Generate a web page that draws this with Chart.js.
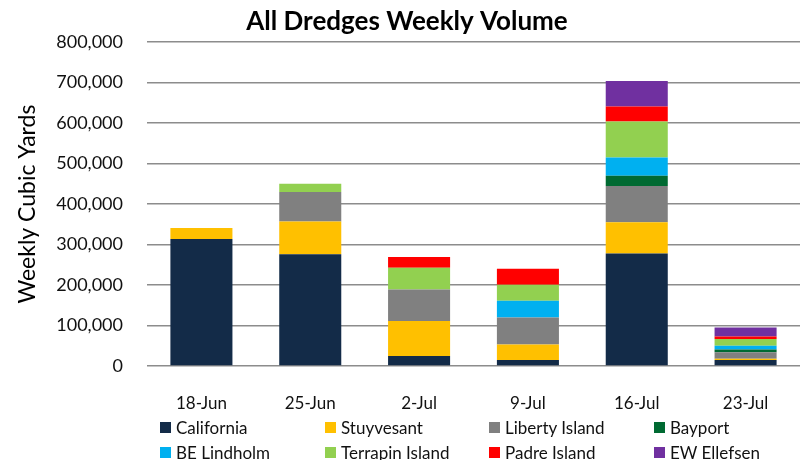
<!DOCTYPE html>
<html>
<head>
<meta charset="utf-8">
<script src="https://cdn.jsdelivr.net/npm/chart.js@4/dist/chart.umd.min.js"></script>
<style>
  body { margin: 0; background: #fff; }
  #wrap { position: relative; width: 812px; height: 460px; }
  #legend { position: absolute; left: 0; top: 0; width: 812px; height: 460px; pointer-events: none; }
  .item { position: absolute; display: flex; align-items: center; font-family: Lato, sans-serif; font-size: 17px; color: #111; }
  .box { width: 11px; height: 11px; margin-right: 5px; }
</style>
</head>
<body>
<div id="wrap">
  <canvas id="chart" width="812" height="460"></canvas>
  <div id="legend"></div>
</div>
<script>
const weeks = ["18-Jun", "25-Jun", "2-Jul", "9-Jul", "16-Jul", "23-Jul"];

const california = [314000, 276000, 25000, 15000, 278000, 15000];
const stuyvesant = [27000, 81000, 86000, 38000, 77000, 3000];
const libertyIsland = [0, 73000, 78000, 67000, 90000, 16000];
const bayport = [0, 0, 0, 0, 25000, 7000];
const beLindholm = [0, 0, 0, 41000, 45000, 9000];
const terrapinIsland = [0, 20000, 54000, 40000, 89000, 16500];
const padreIsland = [0, 0, 26000, 39000, 37000, 6500];
const ewEllefsen = [0, 0, 0, 0, 63000, 22000];

const dredgeNames = ["California", "Stuyvesant", "Liberty Island", "Bayport",
  "BE Lindholm", "Terrapin Island", "Padre Island", "EW Ellefsen"];
const dredgeValues = [california, stuyvesant, libertyIsland, bayport,
  beLindholm, terrapinIsland, padreIsland, ewEllefsen];
const dredgeColors = ["#132b48", "#ffc000", "#808080", "#006a32",
  "#00b0f0", "#92d050", "#ff0000", "#7030a0"];

const yTicks = [0, 100000, 200000, 300000, 400000, 500000, 600000, 700000, 800000];

const datasets = dredgeNames.map((name, i) => ({
  label: name,
  data: dredgeValues[i],
  backgroundColor: dredgeColors[i],
  borderWidth: 0,
  barPercentage: 0.57,
  categoryPercentage: 1,
}));

const chart = new Chart(document.getElementById("chart"), {
  type: "bar",
  data: { labels: weeks, datasets: datasets },
  options: {
    responsive: false,
    animation: false,
    layout: { padding: { left: 14, right: 12, top: 0, bottom: 44 } },
    plugins: {
      legend: { display: false },
      tooltip: { enabled: false },
      title: {
        display: true,
        text: "All Dredges Weekly Volume",
        color: "#000",
        font: { family: "Lato", size: 26, weight: "bold", lineHeight: 1.2 },
        padding: { top: 6, bottom: 5 },
      },
    },
    scales: {
      x: {
        stacked: true,
        grid: { display: false },
        border: { display: false },
        ticks: {
          color: "#111",
          font: { family: "Lato", size: 17 },
          padding: 19,
          maxRotation: 0,
        },
        afterFit: (scale) => { scale.height = 50; },
      },
      y: {
        stacked: true,
        min: 0,
        max: 800000,
        afterBuildTicks: (scale) => { scale.ticks = yTicks.map((v) => ({ value: v })); },
        grid: { color: "#8c8c8c", lineWidth: 1.5, drawTicks: false },
        border: { display: false },
        ticks: {
          color: "#111",
          font: { family: "Lato", size: 18 },
          padding: 24,
          callback: (v) => v.toLocaleString("en-US"),
        },
        title: {
          display: true,
          text: "Weekly Cubic Yards",
          color: "#000",
          font: { family: "Lato", size: 23 },
          padding: { top: 0, bottom: 0 },
        },
        afterFit: (scale) => { scale.width = 133; },
      },
    },
  },
});

// legend in fixed columns like the original
const legendBox = document.getElementById("legend");
const colX = [160, 325, 489, 654];
const rowY = [427, 452];
chart.data.datasets.forEach((ds, i) => {
  const item = document.createElement("div");
  item.className = "item";
  item.style.left = colX[i % 4] + "px";
  item.style.top = (rowY[Math.floor(i / 4)] - 11) + "px";
  item.style.height = "22px";
  const box = document.createElement("span");
  box.className = "box";
  box.style.background = ds.backgroundColor;
  const txt = document.createElement("span");
  txt.textContent = ds.label;
  item.appendChild(box);
  item.appendChild(txt);
  legendBox.appendChild(item);
});
</script>
</body>
</html>
